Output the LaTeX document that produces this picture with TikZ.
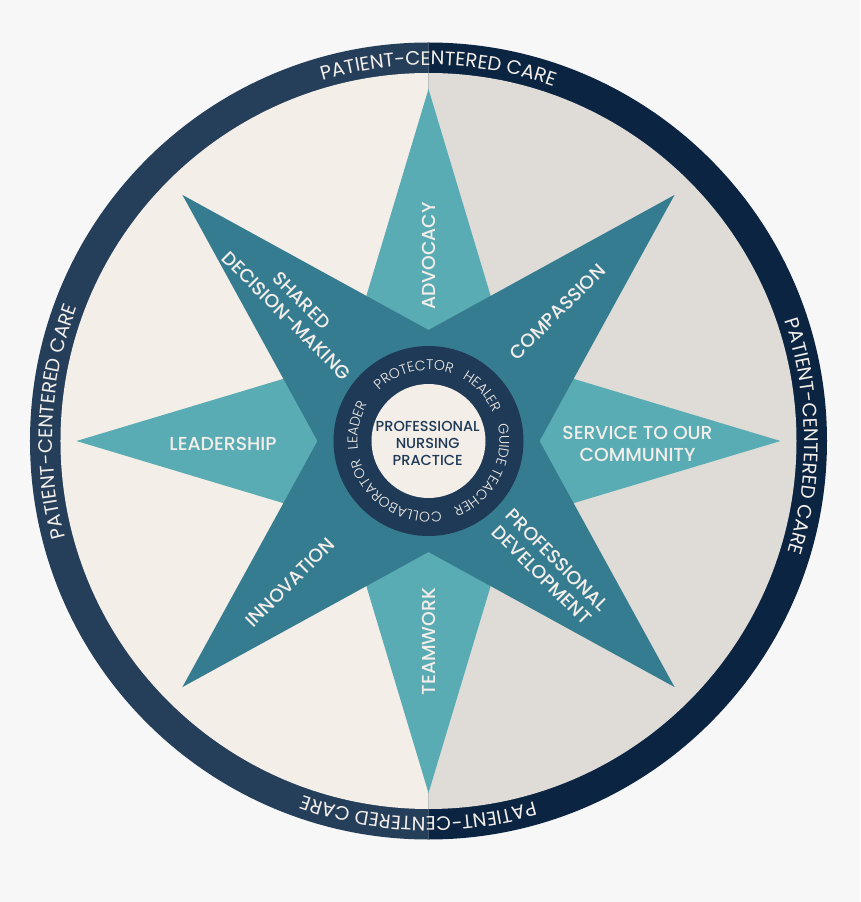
\documentclass[tikz,border=0pt]{standalone}
\usepackage{fontspec}
\setmainfont{Poppins}
\newfontfamily\lightfont{Poppins Light}
\newfontfamily\medfont{Poppins Medium}
\usetikzlibrary{decorations.text}
\definecolor{bg}{HTML}{F7F7F7}
\definecolor{ringL}{HTML}{253F5A}
\definecolor{ringR}{HTML}{0B2441}
\definecolor{discL}{HTML}{F4EEE9}
\definecolor{discR}{HTML}{DFDCD7}
\definecolor{tealL}{HTML}{5AACB4}
\definecolor{tealD}{HTML}{367C90}
\definecolor{navy}{HTML}{1F3A56}
\definecolor{cream}{HTML}{F3EEE9}
\begin{document}
\begin{tikzpicture}[x=1pt,y=1pt,
  lbl/.style={text=cream,font=\medfont\fontsize{18.8}{21.5}\selectfont,align=center,inner sep=0pt},
  ringtext/.style={decorate,decoration={text along path,text align=center,text color=cream,
     text={|\rmfamily\fontsize{19.5}{19.5}\selectfont|PATIENT-CENTERED CARE}}},
  roletext/.style={decorate,decoration={text along path,text align=center,text color=cream,
     text={|\lightfont\fontsize{14}{14}\selectfont|#1}}}
]
\fill[bg] (-428.5,-461) rectangle (431.5,441);
\useasboundingbox (-428.5,-461) rectangle (431.5,441);
% outer ring halves
\fill[ringL] (90:398.5) arc[start angle=90,end angle=270,radius=398.5] -- cycle;
\fill[ringR] (-90:398.5) arc[start angle=-90,end angle=90,radius=398.5] -- cycle;
\fill[discL] (90:368) arc[start angle=90,end angle=270,radius=368] -- cycle;
\fill[discR] (-90:368) arc[start angle=-90,end angle=90,radius=368] -- cycle;
% ring texts
\path[ringtext] (128.5:376) arc[start angle=128.5,end angle=48.5,radius=376];
\path[ringtext] (40.75:376) arc[start angle=40.75,end angle=-39.25,radius=376];
\path[ringtext] (217:376) arc[start angle=217,end angle=137,radius=376];
\path[ringtext] (308.4:376) arc[start angle=308.4,end angle=228.4,radius=376];
% stars
\fill[tealL] (90:352) -- (45:115) -- (0:352) -- (-45:115) -- (-90:352) -- (-135:115) -- (180:352) -- (135:115) -- cycle;
\fill[tealD] (45:348) -- (0:111) -- (-45:348) -- (-90:111) -- (-135:348) -- (180:111) -- (135:348) -- (90:111) -- cycle;
% role ring
\fill[navy] (0,0) circle[radius=95];
\fill[discL] (0,0) circle[radius=57];
\path[roletext=PROTECTOR] (187.4:71) arc[start angle=187.4,end angle=17.4,radius=71];
\path[roletext=HEALER] (127.6:71) arc[start angle=127.6,end angle=-42.4,radius=71];
\path[roletext=GUIDE] (82.2:71) arc[start angle=82.2,end angle=-87.8,radius=71];
\path[roletext=TEACHER] (39.1:71) arc[start angle=39.1,end angle=-130.9,radius=71];
\path[roletext=COLLABORATOR] (-37.6:71) arc[start angle=-37.6,end angle=-207.6,radius=71];
\path[roletext=LEADER] (253:71) arc[start angle=253,end angle=83,radius=71];
% center
\node[text=navy,font=\medfont\fontsize{14.5}{16.8}\selectfont,align=center,inner sep=0pt] (pnp) at (-0.8,-2.3) {PROFESSIONAL\\NURSING\\PRACTICE};
% labels
\node[lbl,rotate=90] (adv) at (0,185) {ADVOCACY};
\node[lbl,rotate=90] (team) at (0,-200.5) {TEAMWORK};
\node[lbl] (lead) at (-205.5,-2.6) {LEADERSHIP};
\node[lbl] (serv) at (209,-3) {SERVICE TO OUR\\COMMUNITY};
\node[lbl,rotate=45] (comp) at (129,129) {COMPASSION};
\node[lbl,rotate=45] (innov) at (-138.5,-141.5) {INNOVATION};
\node[lbl,rotate=-45] (shared) at (-134.5,133) {SHARED\\DECISION-MAKING};
\node[lbl,rotate=-45] (profdev) at (121,-126.5) {PROFESSIONAL\\DEVELOPMENT};
\end{tikzpicture}
\end{document}
